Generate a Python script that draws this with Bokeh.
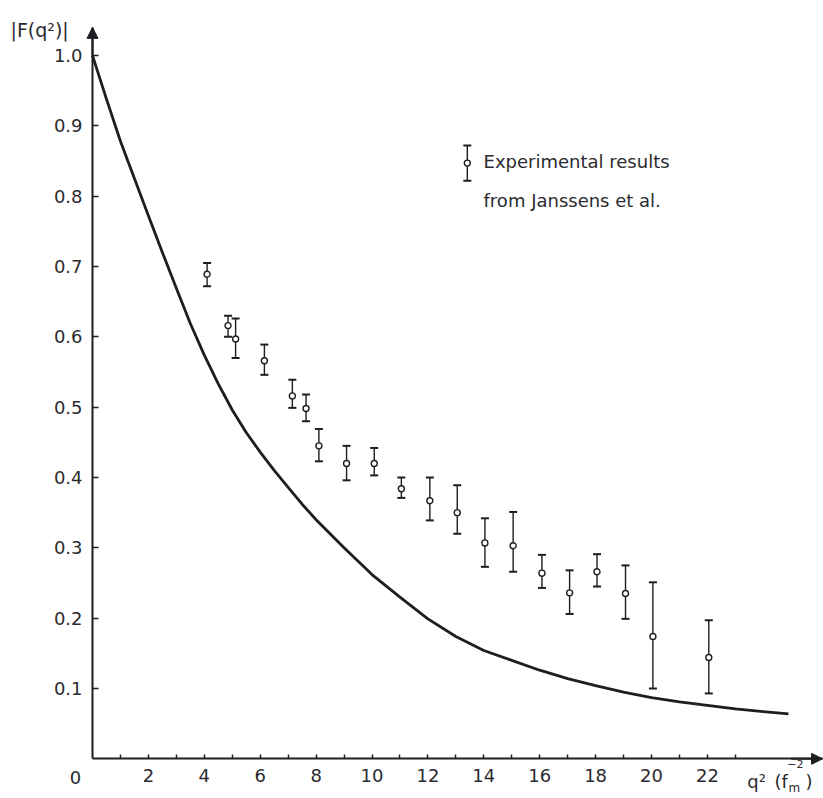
from bokeh.plotting import figure
from bokeh.models import (ColumnDataSource, Whisker, TeeHead, Range1d, FixedTicker,
                          PrintfTickFormatter, Label, Arrow, NormalHead)
from bokeh.embed import file_html
from bokeh.resources import INLINE

# ---- data ----
q2 = [4.1, 4.85, 5.12, 6.15, 7.15, 7.64, 8.1, 9.09, 10.08, 11.05,
      12.07, 13.05, 14.04, 15.05, 16.08, 17.07, 18.05, 19.07, 20.05, 22.05]
F_exp = [0.689, 0.616, 0.597, 0.566, 0.516, 0.498, 0.445, 0.420, 0.420, 0.384,
         0.367, 0.350, 0.307, 0.303, 0.264, 0.236, 0.266, 0.235, 0.174, 0.144]
F_upper = [0.705, 0.630, 0.626, 0.589, 0.539, 0.518, 0.469, 0.445, 0.442, 0.400,
           0.400, 0.389, 0.342, 0.351, 0.290, 0.268, 0.291, 0.275, 0.251, 0.197]
F_lower = [0.672, 0.600, 0.570, 0.546, 0.499, 0.480, 0.423, 0.396, 0.403, 0.371,
           0.339, 0.320, 0.273, 0.266, 0.243, 0.206, 0.245, 0.199, 0.100, 0.093]

curve_q2 = [0, 0.5, 1, 1.5, 2, 2.5, 3, 3.5, 4, 4.5, 5, 5.5, 6, 6.5, 7, 7.5, 8, 9, 10, 11, 12,
            13, 14, 15, 16, 17, 18, 19, 20, 21, 22, 23, 24, 24.9]
curve_F = [1.0, 0.938, 0.878, 0.825, 0.772, 0.720, 0.669, 0.619, 0.574, 0.533, 0.496,
           0.464, 0.436, 0.410, 0.386, 0.362, 0.340, 0.300, 0.262, 0.230, 0.199, 0.174, 0.154,
           0.140, 0.126, 0.114, 0.104, 0.095, 0.087, 0.081, 0.076, 0.071, 0.067, 0.064]

y_ticks = [0.1, 0.2, 0.3, 0.4, 0.5, 0.6, 0.7, 0.8, 0.9, 1.0]
x_ticks = [2, 4, 6, 8, 10, 12, 14, 16, 18, 20, 22]
x_minor_ticks = [1, 3, 5, 7, 9, 11, 13, 15, 17, 19, 21, 23]

legend_lines = ["Experimental results", "from Janssens et al."]

# ---- layout constants (data extents of the canvas) ----
X_MIN, X_MAX = -3.292, 26.154
Y_MIN, Y_MAX = -0.0564, 1.0782
X_TIP, Y_TIP = 26.12, 1.040
INK = "#1e1e22"
TXT = "#2b2b2f"
FONT = "DejaVu Sans"

p = figure(width=823, height=798, output_backend="svg", toolbar_location=None,
           x_range=Range1d(X_MIN, X_MAX), y_range=Range1d(Y_MIN, Y_MAX),
           min_border=0)
p.min_border_left = 0
p.min_border_right = 0
p.min_border_top = 0
p.min_border_bottom = 0
p.xgrid.visible = False
p.ygrid.visible = False
p.outline_line_color = None
p.background_fill_color = "white"
p.border_fill_color = "white"

xa = p.xaxis[0]
ya = p.yaxis[0]
xa.fixed_location = 0
ya.fixed_location = 0
xa.bounds = (0, X_TIP)
ya.bounds = (0, Y_TIP)
for ax in (xa, ya):
    ax.axis_line_width = 2
    ax.axis_line_color = INK
    ax.major_tick_line_color = INK
    ax.major_tick_line_width = 1.5
    ax.major_tick_out = 0
    ax.major_label_text_font = FONT
    ax.major_label_text_font_size = "18px"
    ax.major_label_text_color = TXT

ya.ticker = FixedTicker(ticks=y_ticks)
ya.formatter = PrintfTickFormatter(format="%.1f")
ya.major_tick_in = 6
ya.minor_tick_line_color = None
ya.major_label_standoff = 10

xa.ticker = FixedTicker(ticks=x_ticks, minor_ticks=x_minor_ticks)
xa.major_tick_in = 4
xa.minor_tick_in = 4
xa.minor_tick_out = 0
xa.minor_tick_line_color = INK
xa.minor_tick_line_width = 1.5
xa.major_label_standoff = 10

# arrow heads on the axes
p.add_layout(Arrow(end=NormalHead(size=11, fill_color=INK, line_color=INK),
                   x_start=0, y_start=1.0, x_end=0, y_end=Y_TIP,
                   line_color=INK, line_width=2))
p.add_layout(Arrow(end=NormalHead(size=11, fill_color=INK, line_color=INK),
                   x_start=25.0, y_start=0, x_end=X_TIP, y_end=0,
                   line_color=INK, line_width=2))

# theory curve
p.line(curve_q2, curve_F, line_color=INK, line_width=2.8, line_join="round")

# experimental points with error bars
src = ColumnDataSource(dict(q2=q2, F=F_exp, upper=F_upper, lower=F_lower))
p.add_layout(Whisker(source=src, base="q2", upper="upper", lower="lower", dimension="height",
                     line_color=INK, line_width=1.4,
                     upper_head=TeeHead(size=8, line_color=INK, line_width=2),
                     lower_head=TeeHead(size=8, line_color=INK, line_width=2)))
p.scatter("q2", "F", source=src, marker="circle", size=6, fill_color="white",
          line_color=INK, line_width=1.4)

# legend: key symbol + two text lines
LEG_X, LEG_Y, LEG_HALF = 13.41, 0.847, 0.025
leg_src = ColumnDataSource(dict(x=[LEG_X], y=[LEG_Y], up=[LEG_Y + LEG_HALF], lo=[LEG_Y - LEG_HALF]))
p.add_layout(Whisker(source=leg_src, base="x", upper="up", lower="lo", dimension="height",
                     line_color=INK, line_width=1.4,
                     upper_head=TeeHead(size=8, line_color=INK, line_width=2),
                     lower_head=TeeHead(size=8, line_color=INK, line_width=2)))
p.scatter("x", "y", source=leg_src, marker="circle", size=6, fill_color="white",
          line_color=INK, line_width=1.4)
for i, txt in enumerate(legend_lines):
    p.add_layout(Label(x=13.99, y=0.850 - i * 0.056, text=txt, text_font=FONT,
                       text_font_size="18px", text_color=TXT,
                       text_align="left", text_baseline="middle"))

# y-axis title
p.add_layout(Label(x=-2.934, y=1.0356, text="|F(q²)|", text_font=FONT,
                   text_font_size="19px", text_color=TXT,
                   text_align="left", text_baseline="middle"))

# origin label
p.add_layout(Label(x=-0.61, y=-0.027, text="0", text_font=FONT,
                   text_font_size="18px", text_color=TXT,
                   text_align="center", text_baseline="middle"))

# x-axis title: q² (f_m^-2)
XL_Y = -0.032
p.add_layout(Label(x=23.43, y=XL_Y, text="q²", text_font=FONT,
                   text_font_size="18px", text_color=TXT,
                   text_align="left", text_baseline="middle"))
p.add_layout(Label(x=24.40, y=XL_Y, text="(f", text_font=FONT,
                   text_font_size="18px", text_color=TXT,
                   text_align="left", text_baseline="middle"))
p.add_layout(Label(x=24.86, y=-0.007, text="−2", text_font=FONT,
                   text_font_size="11px", text_color=TXT,
                   text_align="left", text_baseline="middle"))
p.add_layout(Label(x=24.90, y=-0.042, text="m", text_font=FONT,
                   text_font_size="12px", text_color=TXT,
                   text_align="left", text_baseline="middle"))
p.add_layout(Label(x=25.51, y=XL_Y, text=")", text_font=FONT,
                   text_font_size="18px", text_color=TXT,
                   text_align="left", text_baseline="middle"))

open("out.html", "w").write(file_html(p, INLINE))
